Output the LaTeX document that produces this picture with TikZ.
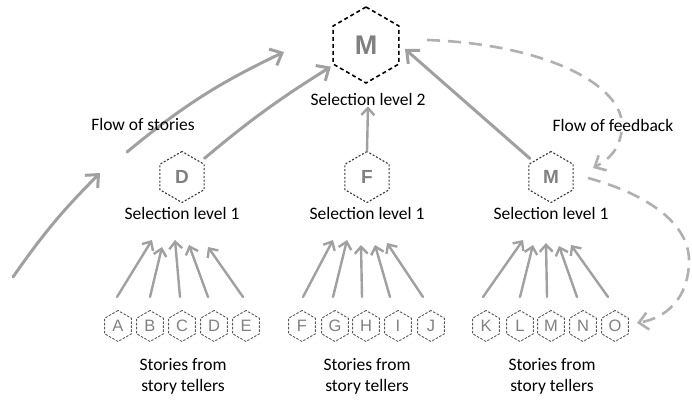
\documentclass[tikz,border=0pt]{standalone}
\usepackage{fontspec}
\setmainfont{Carlito}
\newfontfamily\letterfont{Liberation Sans}
\usetikzlibrary{shapes.geometric,arrows.meta}
\definecolor{arrowgray}{HTML}{A0A0A0}
\definecolor{dashgray}{HTML}{B0B0B0}
\definecolor{lettergray}{HTML}{808080}
\definecolor{leafline}{HTML}{5A5A5A}
\definecolor{midline}{HTML}{353535}
\begin{document}
\begin{tikzpicture}[x=1pt,y=-1pt,
  hexbase/.style={regular polygon, regular polygon sides=6, shape border rotate=30,
    inner sep=0pt, text=lettergray},
  tophex/.style={hexbase, minimum size=76pt, draw=black, line width=1.6pt,
    dash pattern=on 4pt off 3pt, font=\letterfont\bfseries\fontsize{27}{27}\selectfont},
  midhex/.style={hexbase, minimum size=51pt, draw=midline, line width=1.1pt,
    dash pattern=on 2pt off 1.8pt, font=\letterfont\bfseries\fontsize{19}{19}\selectfont},
  leafhex/.style={hexbase, minimum size=31pt, draw=leafline, line width=0.9pt,
    dash pattern=on 2.5pt off 1.5pt, font=\letterfont\fontsize{16.5}{16.5}\selectfont},
  lab/.style={font=\fontsize{17.5}{21}\selectfont, inner sep=1pt},
  sarrow/.style={draw=arrowgray, line width=2.4pt, line cap=round,
    -{Straight Barb[length=7pt,width=13pt]}},
  barrow/.style={draw=arrowgray, line width=3pt, line cap=round,
    -{Straight Barb[length=10pt,width=18pt]}},
  fback/.style={draw=dashgray, line width=2.6pt, dash pattern=on 13pt off 8pt,
    -{Straight Barb[length=9pt,width=17pt]}}]
\useasboundingbox (0,0) rectangle (692,401);

% top
\node[tophex] (Mtop) at (366,45) {M};
\node[lab] (lab2) at (368,99) {Selection level 2};

% level 1
\node[midhex] (D1) at (182,177) {D};
\node[midhex] (F1) at (367,177) {F};
\node[midhex] (M1) at (551,177) {M};
\node[lab] (labD) at (182,213) {Selection level 1};
\node[lab] (labF) at (367,213) {Selection level 1};
\node[lab] (labM) at (551,213) {Selection level 1};

% leaves and their arrows
\foreach \n/\x/\dx/\hx/\hy in {
  A/118/-1/152/240, B/150/0/162/247, C/182/-2/175/240, D/214/-6/189/245, E/246/-3/208/247,
  F/302/1/333/240, G/335/-2/347/240, H/366/-4/361/245, I/398/-8/375/245, J/431/-8/387/243,
  K/486/-3/523/240, L/520/0/533/245, M/551/-4/546/243, N/583/-6/559/246, O/615/-7/571/245}{
  \node[leafhex] (leaf\n) at (\x,326) {\n};
  \coordinate (h\n) at (\hx,\hy);
  \draw[sarrow] ([xshift=\dx pt,yshift=13pt]leaf\n.north) -- (h\n);
}

\node[lab, align=center] (stA) at (183,376) {Stories from\\story tellers};
\node[lab, align=center] (stF) at (367,376) {Stories from\\story tellers};
\node[lab, align=center] (stK) at (552,376) {Stories from\\story tellers};

% flow of stories
\coordinate (s1) at (13,277);
\coordinate (e1) at (100,173);
\coordinate (s2) at (127,152);
\coordinate (e2) at (284,52);
\draw[barrow] (s1) to[bend left=5] (e1);
\draw[barrow] (s2) to[bend left=7] (e2);
\draw[barrow, shorten <=5pt, shorten >=3pt] (D1) to[bend left=4] (Mtop);
\coordinate (hMr) at (405,49);
\draw[barrow, shorten <=4pt] (M1) -- (hMr);
\draw[sarrow] (F1.north) -- (lab2.south);
\node[lab] (flowS) at (143,124) {Flow of stories};

% flow of feedback
\coordinate (fa) at (427,40);
\coordinate (fb) at (593,168);
\draw[fback] (fa) .. controls (545,44) and (625,85) .. (622,128)
  .. controls (620,150) and (608,160) .. (fb);
\node[lab, fill=white] (flowF) at (613,125) {Flow of feedback};
\coordinate (fc) at (588,178);
\coordinate (fd) at (637,323);
\draw[fback] (fc) .. controls (650,195) and (690,225) .. (689,262)
  .. controls (688,300) and (665,318) .. (fd);
\end{tikzpicture}
\end{document}
